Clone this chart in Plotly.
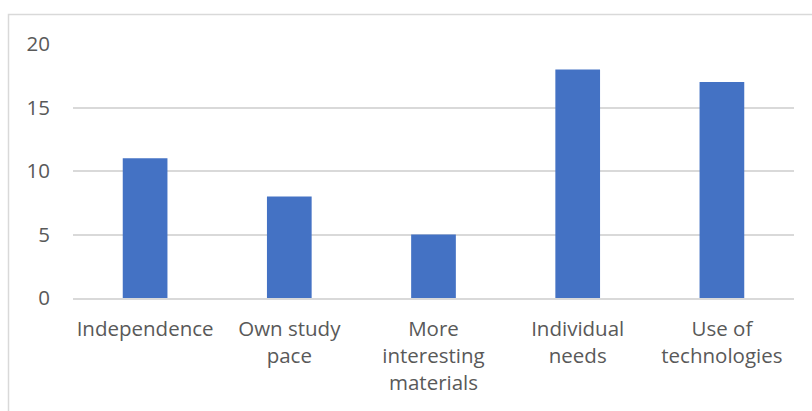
import plotly.graph_objects as go

categories = ["Independence", "Own study<br>pace", "More<br>interesting<br>materials",
              "Individual<br>needs", "Use of<br>technologies"]
values = [11, 8, 5, 18, 17]
y_ticks = [0, 5, 10, 15, 20]

BAR_COLOR = "#4472C4"
TEXT_COLOR = "#595959"
GRID_COLOR = "#D9D9D9"
FONT = "Open Sans"

fig = go.Figure(go.Bar(x=categories, y=values, marker_color=BAR_COLOR,
                       marker_line_width=0, hoverinfo="x+y"))

fig.update_layout(
    width=812, height=411,
    margin=dict(l=73, r=18, t=44, b=113),
    paper_bgcolor="white", plot_bgcolor="white",
    bargap=0.69,
    showlegend=False,
    font=dict(family=FONT, size=20.5, color=TEXT_COLOR),
    xaxis=dict(showgrid=False, showline=True, linecolor=GRID_COLOR, linewidth=1.5,
               ticks="", ticklabelstandoff=12, tickangle=0, fixedrange=True),
    yaxis=dict(range=[0, 20], tickvals=y_ticks, showgrid=True, gridcolor=GRID_COLOR,
               gridwidth=1.5, zeroline=False, showline=False, ticks="",
               ticklabelstandoff=22, fixedrange=True),
    shapes=[dict(type="rect", xref="paper", yref="paper",
                 x0=(8.5 - 73) / 721, x1=(830 - 73) / 721,
                 y0=(298 - 430) / 254, y1=(298 - 14.5) / 254,
                 line=dict(color=GRID_COLOR, width=1.5), layer="below")],
)

fig.write_html("out.html")
